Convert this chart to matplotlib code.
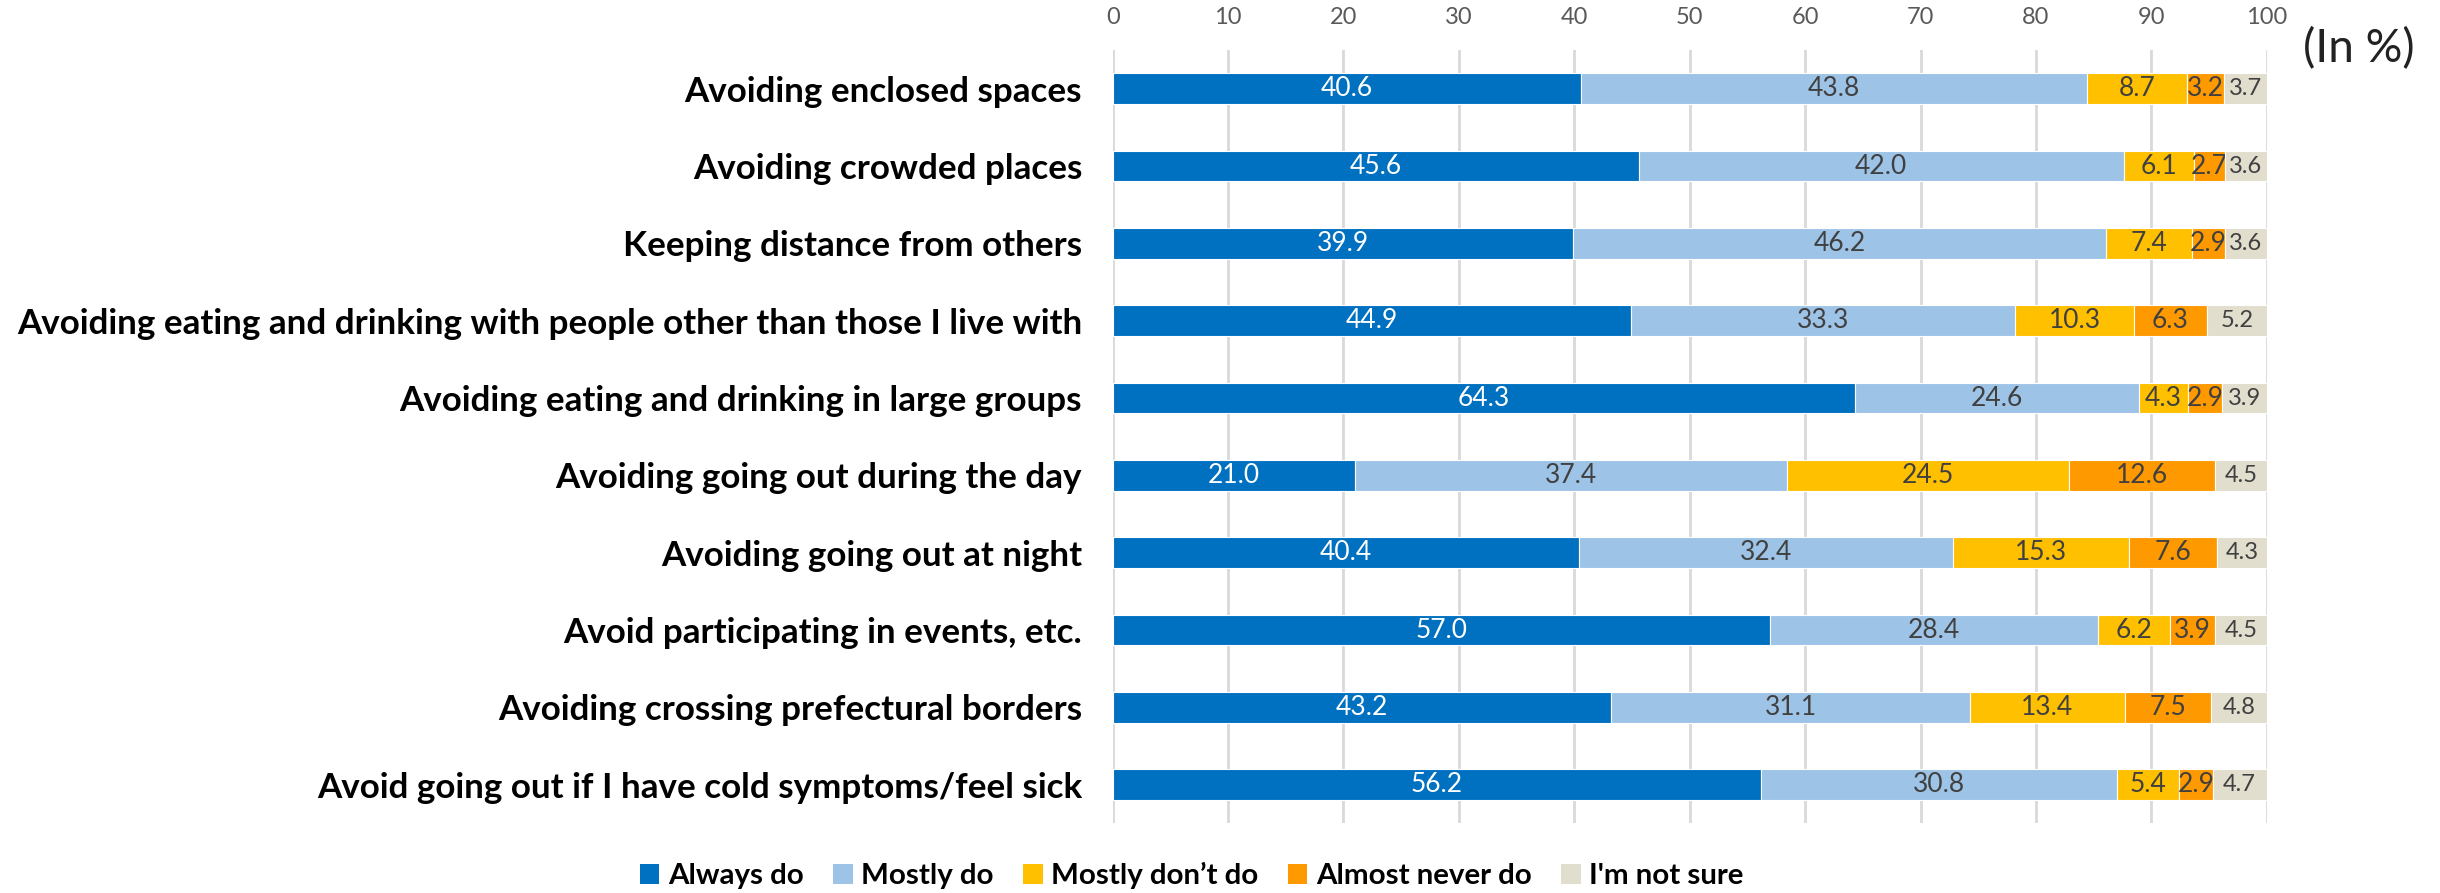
import matplotlib
matplotlib.use('Agg')
import matplotlib.pyplot as plt
from matplotlib import font_manager
from matplotlib.patches import Patch
import numpy as np

categories = [
    'Avoiding enclosed spaces',
    'Avoiding crowded places',
    'Keeping distance from others',
    'Avoiding eating and drinking with people other than those I live with',
    'Avoiding eating and drinking in large groups',
    'Avoiding going out during the day',
    'Avoiding going out at night',
    'Avoid participating in events, etc.',
    'Avoiding crossing prefectural borders',
    'Avoid going out if I have cold symptoms/feel sick',
]
series_names = ['Always do', 'Mostly do', 'Mostly don\u2019t do', 'Almost never do', "I'm not sure"]
always_do = [40.6, 45.6, 39.9, 44.9, 64.3, 21.0, 40.4, 57.0, 43.2, 56.2]
mostly_do = [43.8, 42.0, 46.2, 33.3, 24.6, 37.4, 32.4, 28.4, 31.1, 30.8]
mostly_dont = [8.7, 6.1, 7.4, 10.3, 4.3, 24.5, 15.3, 6.2, 13.4, 5.4]
almost_never = [3.2, 2.7, 2.9, 6.3, 2.9, 12.6, 7.6, 3.9, 7.5, 2.9]
not_sure = [3.7, 3.6, 3.6, 5.2, 3.9, 4.5, 4.3, 4.5, 4.8, 4.7]
xticks = list(range(0, 101, 10))

colors = ['#0070C0', '#9DC3E6', '#FFC000', '#FF9900', '#E1DECE']
text_colors = ['white', '#404040', '#404040', '#404040', '#404040']

installed = {f.name for f in font_manager.fontManager.ttflist}
font = 'Lato' if 'Lato' in installed else 'DejaVu Sans'
plt.rcParams['font.family'] = [font, 'DejaVu Sans']

fig = plt.figure(figsize=(24.4, 8.93), dpi=100)
ax = fig.add_axes([0.456, 0.078, 0.473, 0.866])

data = [always_do, mostly_do, mostly_dont, almost_never, not_sure]
y = np.arange(len(categories))
left = np.zeros(len(categories))
for i, vals in enumerate(data):
    vals = np.array(vals)
    bars = ax.barh(y, vals, left=left, height=0.4, color=colors[i],
                   edgecolor='white', linewidth=0.8, zorder=3)
    size = 19 if i < 4 else 17
    ax.bar_label(bars, labels=[f'{v:.1f}' for v in vals], label_type='center',
                 color=text_colors[i], fontsize=size)
    left += vals

ax.set_xlim(0, 100)
ax.set_ylim(len(categories) - 0.5, -0.5)
ax.set_xticks(xticks)
ax.xaxis.tick_top()
ax.tick_params(axis='x', length=0, pad=16, labelsize=17, labelcolor='#595959')
ax.tick_params(axis='y', length=0, pad=22)
ax.set_yticks(y)
ax.set_yticklabels(categories, fontsize=24, fontweight='bold', color='black')
ax.grid(axis='x', color='#D9D9D9', linewidth=2, zorder=0)
for s in ax.spines.values():
    s.set_visible(False)

fig.text(0.944, 0.945, '(In %)', fontsize=33, color='#222222',
         ha='left', va='center')

handles = [Patch(facecolor=c) for c in colors]


def make_legend(size):
    return fig.legend(handles, series_names, loc='center', ncol=5,
                      bbox_to_anchor=(0.4885, 0.0195), frameon=False,
                      prop={'weight': 'bold', 'size': size}, handlelength=0.65,
                      handleheight=0.65, handletextpad=0.3, columnspacing=1.0)


leg = make_legend(18)

# fit label sizes to the reference widths
fig.canvas.draw()
r = fig.canvas.get_renderer()
w = ax.get_yticklabels()[3].get_window_extent(r).width
for t in ax.get_yticklabels():
    t.set_fontsize(24 * 1066 / w)
lw = leg.get_window_extent(r).width
leg.remove()
leg = make_legend(18 * 1129 / lw)

fig.savefig('out.png', dpi=100)
